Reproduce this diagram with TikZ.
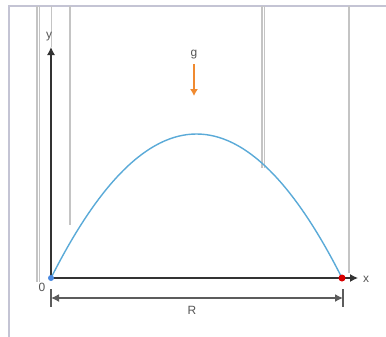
\documentclass[tikz,border=0pt]{standalone}
\usepackage{fontspec}
\setmainfont{Liberation Sans}
\usetikzlibrary{arrows.meta}
\definecolor{framec}{HTML}{C4C4D4}
\definecolor{guidec}{HTML}{C4C4C4}
\definecolor{curvec}{HTML}{5AAAD8}
\definecolor{gravc}{HTML}{F08A30}
\definecolor{labc}{HTML}{555555}
\definecolor{axc}{HTML}{333333}
\tikzset{
  frameline/.style={framec, line width=1.5bp},
  guideline/.style={guidec, line width=1.3bp},
  axisline/.style={axc, line width=1.2bp, -{Latex[length=8bp,width=8bp]}},
  dimline/.style={axc!80, line width=1.5bp, {Latex[length=8bp,width=8bp]}-{Latex[length=8bp,width=8bp]}},
  tickline/.style={axc!80, line width=1.2bp},
  lab/.style={text=labc, font=\fontsize{12}{14}\selectfont, inner sep=0pt},
  traj/.style={curvec, line width=1.4bp},
}
\begin{document}
\begin{tikzpicture}[x=1bp, y=-1bp]
\useasboundingbox (0,0) rectangle (386,337);
\fill[white] (0,0) rectangle (386,337);
% frame and guide lines
\draw[frameline] (9,337) -- (9,6) -- (386,6);
\draw[guideline] (37,6) -- (37,282);
\draw[guideline] (39.5,6) -- (39.5,282);
\draw[guideline] (51.5,6) -- (51.5,47);
\draw[guideline] (70,6) -- (70,225);
\draw[guideline] (262,6) -- (262,168);
\draw[guideline] (264.5,6) -- (264.5,168);
\draw[guideline] (349,6) -- (349,273);
% key points
\coordinate (O) at (51,278);
\coordinate (E) at (342,278);
\coordinate (Ytip) at (51,47);
\coordinate (Xtip) at (358,278);
\coordinate (C1) at (148,86);
\coordinate (C2) at (245,86);
% axes
\draw[axisline] (O) -- (Ytip);
\draw[axisline] (O) -- (Xtip);
\node[lab] (ylab) at (49,37) {y};
\node[lab] (xlab) at (366,279) {x};
\node[lab] (olab) at (42,287) {0};
% trajectory
\draw[traj] (O) .. controls (C1) and (C2) .. (E);
\fill[curvec!80!blue] (O) circle (3bp);
\fill[red!85!black] (E) circle (3.5bp);
% gravity
\node[lab] (g) at (194,55) {g};
\coordinate (gs) at (194,64);
\coordinate (ge) at (194,96);
\draw[gravc, line width=1.2bp, -{Latex[length=7bp,width=8bp]}] (gs) -- (ge);
% range
\coordinate (L1) at (51,289);
\coordinate (L2) at (51,307);
\coordinate (R1) at (343,289);
\coordinate (R2) at (343,307);
\coordinate (DL) at (51,298);
\coordinate (DR) at (343,298);
\draw[tickline] (L1) -- (L2);
\draw[tickline] (R1) -- (R2);
\draw[dimline] (DL) -- (DR);
\node[lab] (rlab) at (192,310) {R};
\end{tikzpicture}
\end{document}
